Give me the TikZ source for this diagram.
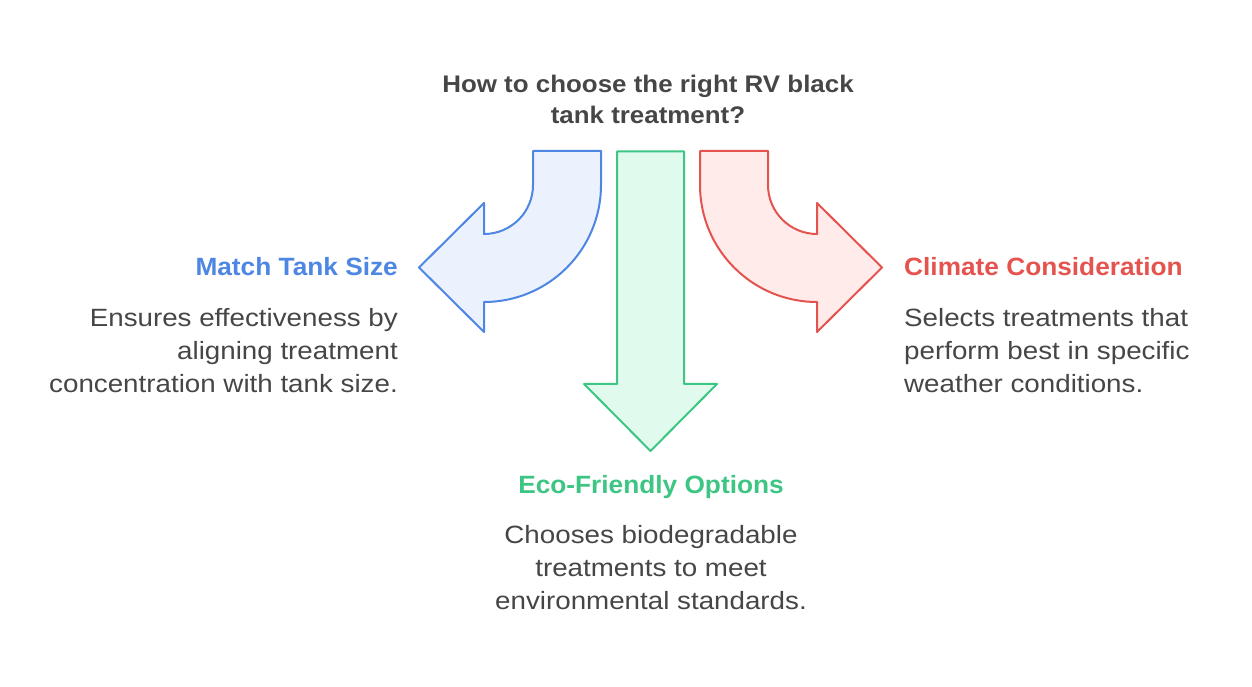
\documentclass[tikz,border=0pt]{standalone}
\usepackage{fontspec}
\setmainfont{Liberation Sans}
\newfontfamily\bodyf[FakeStretch=1.11]{Liberation Sans}
\newfontfamily\headf[FakeStretch=1.05]{Liberation Sans}
\newfontfamily\titlef[FakeStretch=1.08]{Liberation Sans}
\definecolor{bluestroke}{HTML}{4D86E3}
\definecolor{bluefill}{HTML}{EBF1FD}
\definecolor{greenstroke}{HTML}{3DC583}
\definecolor{greenfill}{HTML}{E0FBEE}
\definecolor{redstroke}{HTML}{E5534F}
\definecolor{redfill}{HTML}{FEEBEA}
\definecolor{txtgray}{HTML}{464646}
\tikzset{
  arrowshape/.style={line width=2pt, line join=round},
  heading/.style={inner sep=0pt, font=\headf\fontsize{25}{28}\selectfont\bfseries},
  bodyline/.style={inner sep=0pt, text=txtgray, font=\bodyf\fontsize{25}{28}\selectfont},
  titleline/.style={inner sep=0pt, text=txtgray, font=\titlef\fontsize{24}{28}\selectfont\bfseries},
}
\begin{document}
\begin{tikzpicture}[x=1pt,y=1pt]
\useasboundingbox (0,0) rectangle (1252,686);
% left arrow
\draw[arrowshape, draw=bluestroke, fill=bluefill]
  (533,535) -- (601,535) -- (601,501) arc[start angle=0,end angle=-90,radius=117]
  -- (484,354) -- (419,418.5) -- (484,483) -- (484,452)
  arc[start angle=-90,end angle=0,radius=49] -- cycle;
% right arrow
\draw[arrowshape, draw=redstroke, fill=redfill]
  (768,535) -- (700,535) -- (700,501) arc[start angle=180,end angle=270,radius=117]
  -- (817,354) -- (882,418.5) -- (817,483) -- (817,452)
  arc[start angle=270,end angle=180,radius=49] -- cycle;
% down arrow
\draw[arrowshape, draw=greenstroke, fill=greenfill]
  (617,534.5) -- (684,534.5) -- (684,302) -- (717,302) -- (650.5,235)
  -- (584,302) -- (617,302) -- cycle;
% title
\node[titleline, anchor=base] (t1) at (648,593.7) {How to choose the right RV black};
\node[titleline, anchor=base] (t2) at (648,562) {tank treatment?};
% left
\node[heading, text=bluestroke, anchor=base east] (lh) at (398,410.3) {Match Tank Size};
\node[bodyline, anchor=base east] (l1) at (398,359.3) {Ensures effectiveness by};
\node[bodyline, anchor=base east] (l2) at (398,326.3) {aligning treatment};
\node[bodyline, anchor=base east] (l3) at (398,293.3) {concentration with tank size.};
% right
\node[heading, text=redstroke, anchor=base west] (rh) at (904,410.3) {Climate Consideration};
\node[bodyline, anchor=base west] (r1) at (904,359.3) {Selects treatments that};
\node[bodyline, anchor=base west] (r2) at (904,326.3) {perform best in specific};
\node[bodyline, anchor=base west] (r3) at (904,293.3) {weather conditions.};
% bottom
\node[heading, text=greenstroke, anchor=base] (bh) at (651,192.7) {Eco-Friendly Options};
\node[bodyline, anchor=base] (b1) at (651,142.7) {Chooses biodegradable};
\node[bodyline, anchor=base] (b2) at (651,109.7) {treatments to meet};
\node[bodyline, anchor=base] (b3) at (651,76.7) {environmental standards.};
\end{tikzpicture}
\end{document}
